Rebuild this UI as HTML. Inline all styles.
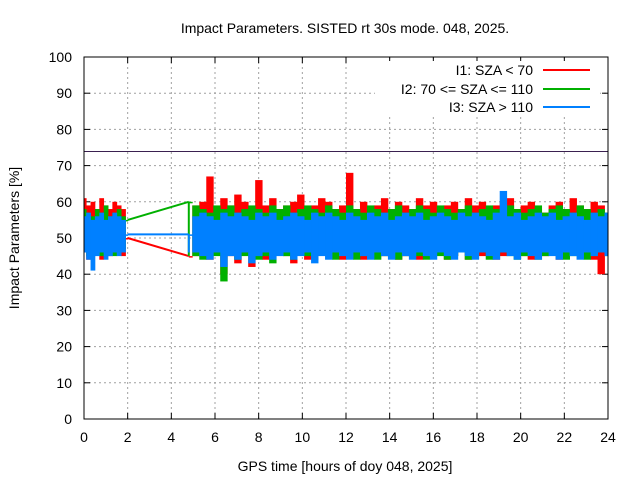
<!DOCTYPE html>
<html><head><meta charset="utf-8"><style>
body{margin:0;background:#fff}
svg text{font-family:"Liberation Sans",sans-serif;fill:#000}
</style></head><body>
<svg id="chart" width="640" height="480" viewBox="0 0 640 480" xmlns="http://www.w3.org/2000/svg">
<rect width="640" height="480" fill="#fff"/>
<text x="345" y="33" font-size="14" text-anchor="middle">Impact Parameters. SISTED rt 30s mode. 048, 2025.</text>
<g id="grid"></g>
<g id="ticks"></g>
<line x1="84" x2="608" y1="151.5" y2="151.5" stroke="#3a2050" stroke-width="1"/>
<g id="series"></g>
<rect x="84" y="57" width="524" height="362" fill="none" stroke="#000" stroke-width="1"/>
<g>
<rect x="375" y="61" width="225" height="54" fill="#fff"/>
<text x="533" y="75" font-size="14" text-anchor="end">I1: SZA &lt; 70</text>
<line x1="543" x2="590" y1="70" y2="70" stroke="#ff0000" stroke-width="2"/>
<text x="533" y="94" font-size="14" text-anchor="end">I2: 70 &lt;= SZA &lt;= 110</text>
<line x1="543" x2="590" y1="89" y2="89" stroke="#00b000" stroke-width="2"/>
<text x="533" y="112" font-size="14" text-anchor="end">I3: SZA &gt; 110</text>
<line x1="543" x2="590" y1="107" y2="107" stroke="#0080ff" stroke-width="2"/>
</g>
<text x="345" y="471" font-size="14" text-anchor="middle">GPS time [hours of doy 048, 2025]</text>
<text transform="translate(19,238) rotate(-90)" font-size="14" text-anchor="middle">Impact Parameters [%]</text>
</svg>
<script>
const xTicks=[0,2,4,6,8,10,12,14,16,18,20,22,24];
const yTicks=[0,10,20,30,40,50,60,70,80,90,100];
const segA=[0,2];
const segB=[4.8,24];
const redHiA=[61,59,60,58,61,59,58,60,59,58,50];
const redLoA=[46,44,45,47,44,46,45,47,46,45,50];
const redHiB=[45,59,60,67,58,61,59,62,60,58,66,59,61,58,59,60,62,58,59,61,60,58,59,68,58,60,58,59,61,58,60,59,58,61,59,60,58,59,60,58,61,59,60,58,59,60,61,58,59,60,58,57,59,60,58,61,59,58,60,59,57];
const redLoB=[45,45,46,44,47,40,45,43,46,42,45,44,46,47,45,43,46,44,45,47,46,45,44,48,46,44,45,47,45,46,44,45,46,44,48,45,46,44,45,46,44,47,45,46,44,45,46,47,45,44,46,45,46,44,45,47,46,45,44,40,46];
const greenHiA=[58,57,56,58,57,59,56,57,58,56,55];
const greenLoA=[47,45,46,48,45,46,47,45,46,47,55];
const greenHiB=[60,59,58,57,59,58,59,57,58,59,58,57,59,58,59,57,58,59,58,57,59,58,57,59,58,57,59,58,57,58,59,57,58,59,58,57,59,58,57,58,59,57,58,59,58,57,59,58,57,58,59,57,58,59,58,57,59,58,57,58,57];
const greenLoB=[60,45,44,46,45,38,46,44,45,46,44,45,43,46,45,44,46,45,44,46,45,44,46,45,44,45,46,44,45,46,44,45,46,45,44,46,45,44,45,46,44,45,46,44,45,46,45,44,45,46,44,45,46,45,44,45,46,44,45,46,45];
const blueHiA=[56,57,55,56,57,55,56,57,56,55,51];
const blueLoA=[46,44,41,45,46,44,45,46,45,46,51];
const blueHiB=[51,56,57,56,55,57,56,57,56,55,57,56,57,55,56,57,56,55,57,56,57,56,55,57,56,55,57,56,57,55,56,57,56,57,55,56,57,56,55,57,56,57,56,55,57,63,56,57,55,56,57,56,57,55,56,57,56,55,57,56,57];
const blueLoB=[51,46,45,44,46,42,45,44,46,43,45,46,44,45,46,44,45,46,43,45,44,46,45,44,46,45,44,46,45,44,46,45,44,46,45,44,46,45,44,46,45,44,46,45,44,46,45,44,46,45,44,46,45,44,46,45,44,46,45,46,45];

const NS="http://www.w3.org/2000/svg";
const X=t=>84+t*(524/24);
const Y=v=>419-v*3.62;
function mk(tag,attrs,parent){const e=document.createElementNS(NS,tag);for(const k in attrs)e.setAttribute(k,attrs[k]);parent.appendChild(e);return e;}
const grid=document.getElementById('grid'),ticks=document.getElementById('ticks'),ser=document.getElementById('series');
xTicks.forEach(t=>{
  if(t>0&&t<24){const g=mk('line',{x1:X(t),x2:X(t),y1:57,y2:419,stroke:'#a0a0a0','stroke-dasharray':'2,3'},grid);
  
  }
  const a=mk('line',{x1:X(t),x2:X(t),y1:419,y2:413,stroke:'#000'},ticks);
  
  
  const b=mk('line',{x1:X(t),x2:X(t),y1:57,y2:63,stroke:'#000'},ticks);
  
  
  const l=mk('text',{x:X(t),y:442,'font-size':14,'text-anchor':'middle'},ticks);l.textContent=t;
  
  
});
yTicks.forEach(v=>{
  if(v>0&&v<100){const g=mk('line',{x1:84,x2:608,y1:Y(v),y2:Y(v),stroke:'#a0a0a0','stroke-dasharray':'2,3'},grid);
  
  }
  const a=mk('line',{x1:84,x2:90,y1:Y(v),y2:Y(v),stroke:'#000'},ticks);
  
  
  const b=mk('line',{x1:602,x2:608,y1:Y(v),y2:Y(v),stroke:'#000'},ticks);
  
  
  const l=mk('text',{x:72,y:Y(v)+5,'font-size':14,'text-anchor':'end'},ticks);l.textContent=v;
  
  
});
function bands(hi,lo,seg,g,c,nm){
  const n=hi.length,w=(X(seg[1])-X(seg[0]))/(n-1);
  for(let i=0;i<n;i++){
    const t=seg[0]+i*(seg[1]-seg[0])/(n-1);
    let x0=X(t)-w/2,x1=X(t)+w/2;
    if(i===0)x0=X(t);
    if(i===n-1)x1=X(t);
    const r=mk('rect',{x:x0.toFixed(2),y:Y(hi[i]).toFixed(2),width:Math.max(0.5,x1-x0+0.4).toFixed(2),height:Math.max(1.5,Y(lo[i])-Y(hi[i])).toFixed(2),fill:c},g);
    
    
  }
}
[['i1',redHiA,redLoA,redHiB,redLoB,'#ff0000'],['i2',greenHiA,greenLoA,greenHiB,greenLoB,'#00b000'],['i3',blueHiA,blueLoA,blueHiB,blueLoB,'#0080ff']].forEach(([nm,ha,la,hb,lb,c])=>{
  const g=mk('g',{},ser);
  
  
  bands(ha,la,segA,g,c,nm);
  bands(hb,lb,segB,g,c,nm);
  const a=ha[ha.length-1],b=lb[0];
  const l=mk('line',{x1:X(segA[1]),y1:Y(a),x2:X(segB[0]),y2:Y(b),stroke:c,'stroke-width':2},g);
  
  
  const v=mk('line',{x1:X(segB[0]),y1:Y(b),x2:X(segB[0]),y2:Y(lb[1]),stroke:c,'stroke-width':2},g);
  
  
});
</script>
</body></html>
